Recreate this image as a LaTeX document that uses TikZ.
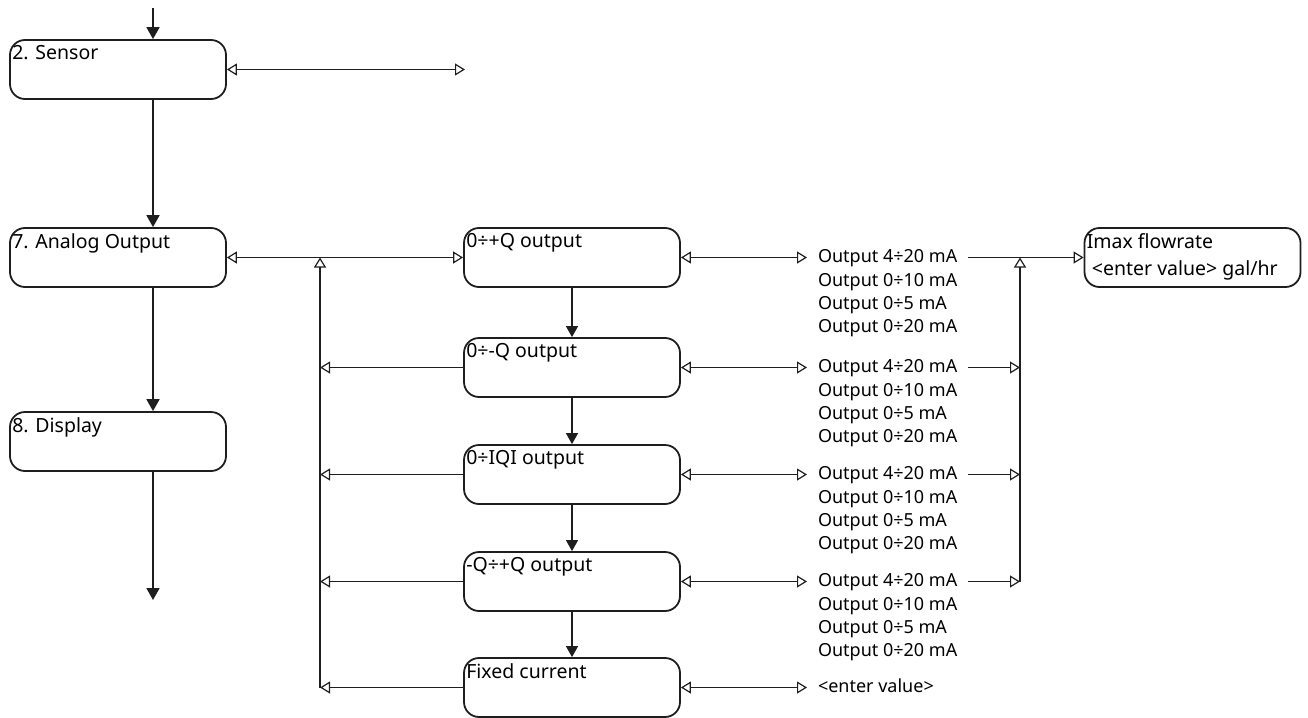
\documentclass[tikz,border=0pt]{standalone}
\usepackage{fontspec}
\setmainfont{Noto Sans}
\usetikzlibrary{arrows.meta}
\definecolor{lineC}{RGB}{30,30,30}
\tikzset{
  menubox/.style={rectangle, rounded corners=15pt, draw=lineC, line width=1.8pt,
                  minimum width=216pt, minimum height=59pt, inner sep=0pt},
  boxlabel/.style={anchor=north west, inner xsep=3pt, inner ysep=6pt, align=left,
                   font=\fontsize{19.5}{27}\selectfont},
  flowarr/.style={-{Triangle[length=12pt,width=13pt]}, line width=1.8pt, lineC},
  stackarr/.style={-{Triangle[length=11pt,width=12pt]}, line width=1.2pt, lineC},
  biarr/.style={{Triangle[open,length=10pt,width=12pt]}-{Triangle[open,length=10pt,width=12pt]},
                line width=1.2pt, lineC},
  openarr/.style={-{Triangle[open,length=10pt,width=12pt]}, line width=1.2pt, lineC},
  listtxt/.style={inner sep=0pt, outer xsep=11pt, align=left,
                  font=\fontsize{18}{23}\selectfont},
  listhead/.style={listtxt, text height=13pt, text depth=4pt},
}
\begin{document}
\begin{tikzpicture}[x=1pt, y=-1pt]
  \useasboundingbox (0,0) rectangle (1308,717);
  % Main menu
  \node[menubox, label={[boxlabel]north west:2. Sensor}] (sensor) at (118,69.5) {};
  \node[menubox, label={[boxlabel]north west:7. Analog Output}] (analog) at (118,257.5) {};
  \node[menubox, label={[boxlabel]north west:8. Display}] (display) at (118,441.5) {};
  \coordinate (mainx) at (153,0);
  \coordinate (entry) at (153,8);
  \coordinate (exit) at (153,600);
  \coordinate (sensorend) at (465,69.5);
  \draw[flowarr] (entry) -- (sensor.north -| mainx);
  \draw[flowarr] (sensor.south -| mainx) -- (analog.north -| mainx);
  \draw[flowarr] (analog.south -| mainx) -- (display.north -| mainx);
  \draw[flowarr] (display.south -| mainx) -- (exit);
  \draw[biarr] (sensor.east) -- (sensorend);
  % Output modes
  \node[menubox, label={[boxlabel]north west:0÷+Q output}] (plusq) at (572,257.5) {};
  \node[menubox, label={[boxlabel]north west:0÷-Q output}] (minusq) at (572,367.5) {};
  \node[menubox, label={[boxlabel]north west:0÷IQI output}] (absq) at (572,474.5) {};
  \node[menubox, label={[boxlabel]north west:-Q÷+Q output}] (pmq) at (572,581.5) {};
  \node[menubox, label={[boxlabel]north west:Fixed current}] (fixed) at (572,687.5) {};
  \draw[biarr] (analog.east) -- (plusq.west);
  \draw[stackarr] (plusq) -- (minusq);
  \draw[stackarr] (minusq) -- (absq);
  \draw[stackarr] (absq) -- (pmq);
  \draw[stackarr] (pmq) -- (fixed);
  % Return bus
  \coordinate (busl) at (320,0);
  \foreach \m in {minusq,absq,pmq,fixed}
    \draw[openarr] (\m.west) -- (\m.west -| busl);
  \draw[openarr] (fixed.west -| busl) -- (analog.east -| busl);
  % Current ranges
  \foreach \m/\i in {plusq/1,minusq/2,absq/3,pmq/4} {
    \node[listhead, anchor=west] (opt\i a) at (807,0 |- \m.east) {Output 4÷20 mA};
    \node[listtxt, anchor=north west, yshift=-7.5pt] (opt\i b) at (opt\i a.south west)
      {Output 0÷10 mA\\Output 0÷5 mA\\Output 0÷20 mA};
    \draw[biarr] (\m.east) -- (opt\i a.west);
  }
  \node[listhead, anchor=west] (fixval) at (807,0 |- fixed.east) {<enter value>};
  \draw[biarr] (fixed.east) -- (fixval.west);
  % Flowrate
  \node[menubox, label={[boxlabel]north west:{Imax flowrate\\\ <enter value> gal/hr}}] (imax) at (1192.5,257.5) {};
  \coordinate (busr) at (1020,0);
  \draw[openarr] (opt1a.east) -- (imax.west);
  \foreach \i in {2,3,4}
    \draw[openarr] (opt\i a.east) -- (opt\i a.east -| busr);
  \draw[openarr] (opt4a.east -| busr) -- (opt1a.east -| busr);
\end{tikzpicture}
\end{document}
